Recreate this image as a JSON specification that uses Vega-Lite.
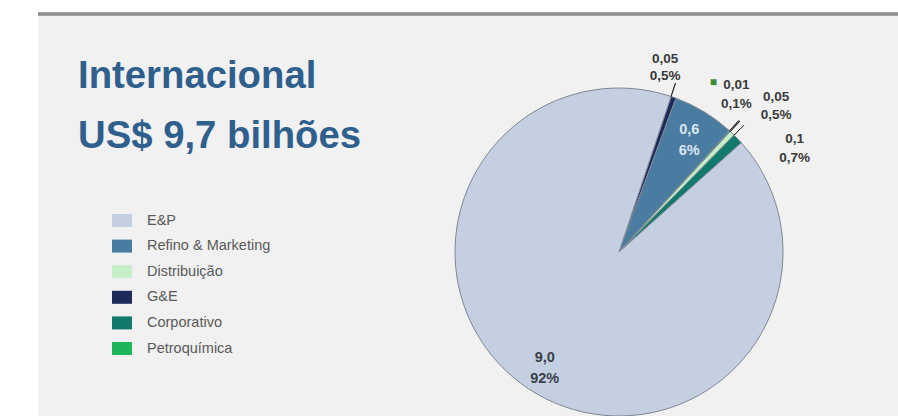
{
  "$schema": "https://vega.github.io/schema/vega-lite/v6.json",
  "autosize": "none",
  "width": 1162,
  "height": 476,
  "padding": {"left": 38, "top": 14, "right": 0, "bottom": 0},
  "background": "white",
  "view": {"fill": "#f1f1f1", "stroke": null},
  "config": {
    "font": "Liberation Sans",
    "view": {"fill": "#f1f1f1", "stroke": null},
    "legend": {
      "orient": "none",
      "legendX": 74,
      "legendY": 196.5,
      "symbolType": "M-1,-0.65H1V0.65H-1Z",
      "symbolSize": 400,
      "symbolStrokeWidth": 0,
      "labelFont": "Liberation Sans",
      "labelFontSize": 14.5,
      "labelColor": "#595959",
      "rowPadding": 8.6,
      "labelOffset": 15,
      "padding": 0
    }
  },
  "title": {
    "text": ["Internacional", "US$ 9,7 bilhões"],
    "anchor": "start",
    "frame": "group",
    "orient": "top",
    "font": "Liberation Sans",
    "fontSize": 38.3,
    "fontWeight": "bold",
    "color": "#2f5f8c",
    "lineHeight": 60,
    "baseline": "alphabetic",
    "offset": 0,
    "dx": 40,
    "dy": 174
  },
  "data": {
    "values": [
      {"segmento": "G&E", "valor": 0.05, "ordem": 1, "rotulo": "0,05\n0,5%"},
      {"segmento": "Refino & Marketing", "valor": 0.6, "ordem": 2, "rotulo": "0,6\n6%"},
      {"segmento": "Petroquímica", "valor": 0.01, "ordem": 3, "rotulo": "0,01\n0,1%"},
      {"segmento": "Distribuição", "valor": 0.05, "ordem": 4, "rotulo": "0,05\n0,5%"},
      {"segmento": "Corporativo", "valor": 0.1, "ordem": 5, "rotulo": "0,1\n0,7%"},
      {"segmento": "E&P", "valor": 9.0, "ordem": 6, "rotulo": "9,0\n92%"}
    ]
  },
  "layer": [
    {
      "mark": {"type": "rule", "stroke": "#8f8f8f", "strokeWidth": 2.5},
      "encoding": {
        "y": {"datum": 1, "type": "quantitative", "scale": {"domain": [0, 1]}, "axis": null}
      }
    },
    {
      "mark": {"type": "arc", "radius": 164, "stroke": "#7f8793", "strokeWidth": 1},
      "encoding": {
        "theta": {"field": "valor", "type": "quantitative", "stack": true, "scale": {"domain": [0, 9.81], "range": [0.3229, 6.6061]}},
        "order": {"field": "ordem", "type": "quantitative"},
        "color": {
          "field": "segmento",
          "type": "nominal",
          "title": null,
          "scale": {
            "domain": ["E&P", "Refino & Marketing", "Distribuição", "G&E", "Corporativo", "Petroquímica"],
            "range": ["#c4d0e2", "#4a7ca2", "#c6eec8", "#1f2a5c", "#127a6c", "#1eb45a"]
          }
        }
      }
    },
    {
      "transform": [
        {"stack": "valor", "groupby": [], "sort": [{"field": "ordem", "order": "ascending"}], "as": ["s0", "s1"]},
        {"filter": "datum.segmento !== 'E&P' && datum.segmento !== 'Refino & Marketing'"}
      ],
      "mark": {"type": "arc", "radius": 178, "radius2": 164, "stroke": "#333333", "strokeWidth": 1, "fill": null},
      "encoding": {
        "theta": {"field": "s0", "type": "quantitative", "scale": {"domain": [0, 9.81], "range": [0.3229, 6.6061]}},
        "theta2": {"field": "s0"}
      }
    },
    {
      "mark": {"type": "text", "radius": 135, "dy": -7, "fontSize": 14.5, "fontWeight": "bold", "lineBreak": "\n", "lineHeight": 21, "align": "center", "baseline": "middle"},
      "encoding": {
        "theta": {"field": "valor", "type": "quantitative", "stack": true, "scale": {"domain": [0, 9.81], "range": [0.3229, 6.6061]}},
        "order": {"field": "ordem", "type": "quantitative"},
        "text": {"condition": {"test": "datum.segmento === 'E&P' || datum.segmento === 'Refino & Marketing'", "field": "rotulo"}, "value": ""},
        "color": {"condition": {"test": "datum.segmento === 'E&P'", "value": "#3a3f4a"}, "value": "#dbe6f0"}
      }
    },
    {
      "mark": {"type": "text", "radius": 190, "dx": -17, "dy": -14, "fontSize": 13.5, "fontWeight": "bold", "lineBreak": "\n", "lineHeight": 17, "align": "center", "baseline": "middle", "color": "#3a3a3a"},
      "encoding": {
        "theta": {"field": "valor", "type": "quantitative", "stack": true, "scale": {"domain": [0, 9.81], "range": [0.3229, 6.6061]}},
        "order": {"field": "ordem", "type": "quantitative"},
        "text": {"condition": {"test": "datum.segmento === 'G&E'", "field": "rotulo"}, "value": ""}
      }
    },
    {
      "mark": {"type": "text", "radius": 190, "dx": -11, "dy": -27.5, "fontSize": 13.5, "fontWeight": "bold", "lineBreak": "\n", "lineHeight": 19, "align": "center", "baseline": "middle", "color": "#3a3a3a"},
      "encoding": {
        "theta": {"field": "valor", "type": "quantitative", "stack": true, "scale": {"domain": [0, 9.81], "range": [0.3229, 6.6061]}},
        "order": {"field": "ordem", "type": "quantitative"},
        "text": {"condition": {"test": "datum.segmento === 'Petroquímica'", "field": "rotulo"}, "value": ""}
      }
    },
    {
      "mark": {"type": "text", "radius": 190, "dx": -34, "dy": -30, "fontSize": 12, "align": "center", "baseline": "middle", "color": "#3d8b3d"},
      "encoding": {
        "theta": {"field": "valor", "type": "quantitative", "stack": true, "scale": {"domain": [0, 9.81], "range": [0.3229, 6.6061]}},
        "order": {"field": "ordem", "type": "quantitative"},
        "text": {"condition": {"test": "datum.segmento === 'Petroquímica'", "value": "■"}, "value": ""}
      }
    },
    {
      "mark": {"type": "text", "radius": 190, "dx": 26, "dy": -17, "fontSize": 13.5, "fontWeight": "bold", "lineBreak": "\n", "lineHeight": 18, "align": "center", "baseline": "middle", "color": "#3a3a3a"},
      "encoding": {
        "theta": {"field": "valor", "type": "quantitative", "stack": true, "scale": {"domain": [0, 9.81], "range": [0.3229, 6.6061]}},
        "order": {"field": "ordem", "type": "quantitative"},
        "text": {"condition": {"test": "datum.segmento === 'Distribuição'", "field": "rotulo"}, "value": ""}
      }
    },
    {
      "mark": {"type": "text", "radius": 190, "dx": 38, "dy": 18, "fontSize": 13.5, "fontWeight": "bold", "lineBreak": "\n", "lineHeight": 19, "align": "center", "baseline": "middle", "color": "#3a3a3a"},
      "encoding": {
        "theta": {"field": "valor", "type": "quantitative", "stack": true, "scale": {"domain": [0, 9.81], "range": [0.3229, 6.6061]}},
        "order": {"field": "ordem", "type": "quantitative"},
        "text": {"condition": {"test": "datum.segmento === 'Corporativo'", "field": "rotulo"}, "value": ""}
      }
    }
  ]
}
